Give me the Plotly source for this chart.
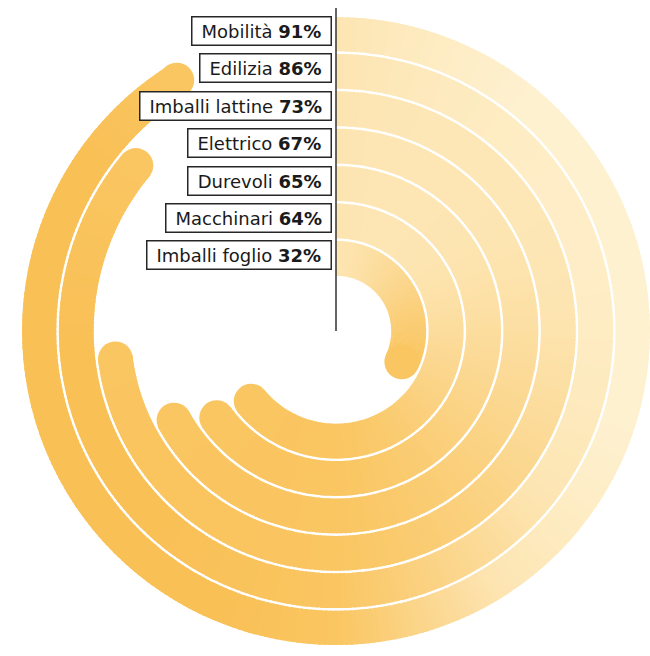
import numpy as np
import plotly.graph_objects as go

# ---- data -------------------------------------------------------------
categories = ["Imballi foglio", "Macchinari", "Durevoli", "Elettrico",
              "Imballi lattine", "Edilizia", "Mobilità"]
values = [32, 64, 65, 67, 73, 86, 91]          # percent, inner ring first

# ---- geometry / style ---------------------------------------------------
W, H = 650, 656
CX, CY = 336, 331          # centre of the rings (px from top-left)
R_PLOT = 314               # pixel radius of the polar area == radial range
THICK = 34.8               # ring thickness
PITCH = 37.4               # distance between consecutive rings
R_IN0 = 314.5 - THICK - PITCH * (len(values) - 1)   # innermost inner radius
STEP = 1.0                 # angular size of each gradient slice (deg)
LABEL_DY = 3               # labels sit slightly above the ring centre line

# gradient along each ring, from its start (light) towards its end (dark)
COLOR_STOPS = [(-1.0, (254, 241, 208)),
               (0.0, (253, 229, 178)),
               (0.5, (251, 213, 138)),
               (1.0, (250, 198, 98)),
               (1.6, (249, 192, 86))]

FONT = "DejaVu Sans"
FONT_SIZE = 18
# advance widths (1/1000 em) used to size the label boxes
REG_W = {'M': 863, 'o': 612, 'b': 635, 'i': 278, 'l': 278, 't': 392, 'à': 613,
         'a': 613, 'E': 632, 'd': 635, 'z': 525, 'I': 295, 'm': 974, 'n': 634,
         'e': 615, 'c': 550, 'r': 411, 'D': 770, 'u': 634, 'v': 592, 'h': 634,
         'f': 352, 'g': 635, ' ': 318}
BOLD_W = {'%': 1002}


def text_width(plain, bold):
    w = sum(REG_W.get(ch, 600) for ch in plain)
    w += sum(BOLD_W.get(ch, 696) for ch in bold)
    return w * FONT_SIZE / 1000.0


def lerp_color(t):
    lo, hi = COLOR_STOPS[0][0], COLOR_STOPS[-1][0]
    t = min(max(t, lo), hi)
    for (t0, c0), (t1, c1) in zip(COLOR_STOPS[:-1], COLOR_STOPS[1:]):
        if t <= t1:
            f = (t - t0) / (t1 - t0)
            c = [round(a + (b - a) * f) for a, b in zip(c0, c1)]
            return "#%02x%02x%02x" % tuple(c)
    return "#%02x%02x%02x" % COLOR_STOPS[-1][1]


def to_px(r, theta_deg):
    a = np.radians(theta_deg)
    return CX + r * np.sin(a), CY - r * np.cos(a)


fig = go.Figure()
annotations = []

for i, (cat, val) in enumerate(zip(categories, values)):
    end = val / 100.0 * 360.0
    r0 = R_IN0 + i * PITCH
    rm = r0 + THICK / 2.0

    # linear gradient running from the ring's start point to its end point
    sx, sy = to_px(rm, 0.0)
    ex, ey = to_px(rm, end)
    vx, vy = ex - sx, ey - sy
    L2 = vx * vx + vy * vy

    def grad(x, y):
        return lerp_color(((x - sx) * vx + (y - sy) * vy) / L2)

    n = max(int(np.ceil(end / STEP)), 1)
    edges = np.linspace(0, end, n + 1)
    centers = (edges[:-1] + edges[1:]) / 2
    widths = np.diff(edges)
    px, py = to_px(rm, centers)
    colors = [grad(x, y) for x, y in zip(px, py)]
    # slight overlap hides seams between slices (not at the start edge)
    w_draw = widths + 0.5
    th_draw = centers + 0.25
    w_draw[0] = widths[0] + 0.25
    th_draw[0] = centers[0] + 0.125

    fig.add_trace(go.Barpolar(
        r=[THICK] * n, base=[r0] * n, theta=th_draw, width=w_draw,
        marker=dict(color=colors, line=dict(width=0)),
        hoverinfo="skip", showlegend=False,
    ))
    # rounded end of the ring
    fig.add_trace(go.Scatterpolar(
        r=[rm], theta=[end], mode="markers",
        marker=dict(size=THICK, color=grad(ex, ey), line=dict(width=0)),
        hoverinfo="skip", showlegend=False,
    ))

    tw = text_width(cat + " ", f"{val}%")
    annotations.append(dict(
        xref="paper", yref="paper",
        x=(CX - 4) / W, y=(H - (CY - rm - LABEL_DY)) / H,
        xanchor="right", yanchor="middle",
        text=f"{cat} <b>{val}%</b>", showarrow=False,
        font=dict(family=FONT, size=FONT_SIZE, color="#1a1a1a"),
        align="center", width=tw + 14, height=23,
        bgcolor="white", bordercolor="#262626", borderwidth=1.5, borderpad=2,
    ))

fig.update_layout(
    width=W, height=H,
    margin=dict(l=0, r=0, t=0, b=0),
    paper_bgcolor="white", plot_bgcolor="white",
    showlegend=False,
    polar=dict(
        domain=dict(x=[(CX - R_PLOT) / W, min((CX + R_PLOT) / W, 1.0)],
                    y=[(H - CY - R_PLOT) / H, (H - CY + R_PLOT) / H]),
        bgcolor="rgba(0,0,0,0)",
        radialaxis=dict(range=[0, R_PLOT], visible=False, showgrid=False),
        angularaxis=dict(rotation=90, direction="clockwise", visible=False,
                         showgrid=False),
    ),
    annotations=annotations,
    shapes=[dict(type="line", xref="paper", yref="paper",
                 x0=CX / W, x1=CX / W,
                 y0=(H - 8) / H, y1=(H - CY) / H,
                 line=dict(color="#333333", width=1.5))],
)

fig.write_html("out.html")
